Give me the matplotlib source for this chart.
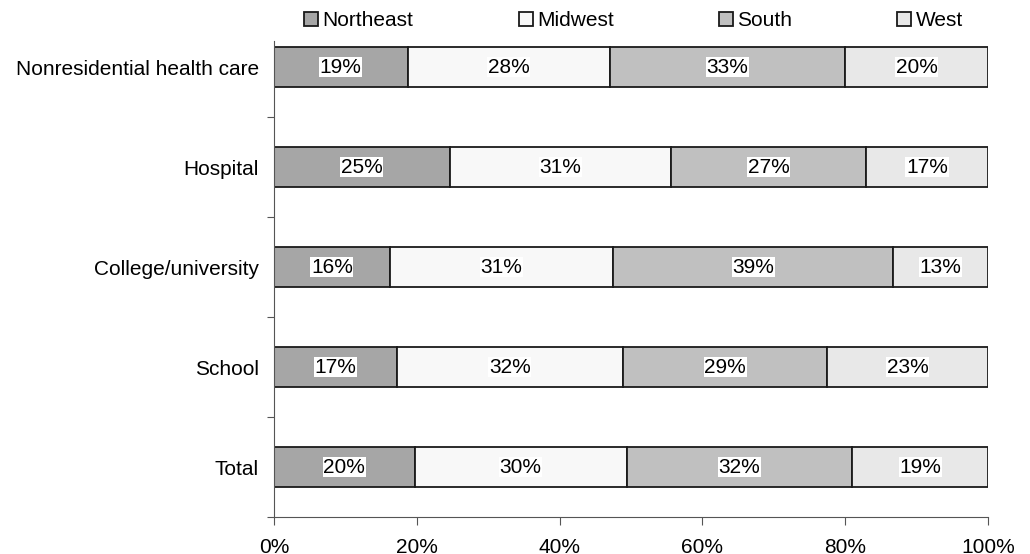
import numpy as np
import matplotlib.pyplot as plt
from matplotlib.ticker import FixedLocator, FuncFormatter

plt.rcParams['font.family'] = ['Liberation Sans', 'DejaVu Sans']

categories = ["Nonresidential health care", "Hospital", "College/university", "School", "Total"]
regions = ["Northeast", "Midwest", "South", "West"]
northeast = [18.7, 24.6, 16.2, 17.2, 19.7]
midwest = [28.3, 31.0, 31.3, 31.7, 29.7]
south = [33.0, 27.3, 39.2, 28.6, 31.6]
west = [20.0, 17.1, 13.3, 22.5, 19.0]
labels = [
    [19, 25, 16, 17, 20],
    [28, 31, 31, 32, 30],
    [33, 27, 39, 29, 32],
    [20, 17, 13, 23, 19],
]
colors = ["#a6a6a6", "#f8f8f8", "#c0c0c0", "#e8e8e8"]
fs = 15

fig = plt.figure(figsize=(10.3, 5.54), dpi=100)
ax = fig.add_axes([274 / 1030, 1 - 517 / 554, 714 / 1030, 500 / 554])

y = np.arange(len(categories))
left = np.zeros(len(categories))
for name, vals, col, labs in zip(regions, [northeast, midwest, south, west], colors, labels):
    vals = np.array(vals)
    ax.barh(y, vals, left=left, height=0.4, color=col, edgecolor="#1a1a1a",
            linewidth=1.3, label=name)
    for yi, l, v, t in zip(y, left, vals, labs):
        ax.text(l + v / 2, yi, f"{t}%", ha="center", va="center", fontsize=fs,
                bbox=dict(facecolor="white", edgecolor="none", pad=0.5))
    left = left + vals

ax.set_xlim(0, 100)
ax.set_ylim(len(categories) - 0.5, -0.5)
ax.xaxis.set_major_locator(FixedLocator([0, 20, 40, 60, 80, 100]))
ax.xaxis.set_major_formatter(FuncFormatter(lambda v, p: f"{v:.0f}%"))
ax.yaxis.set_major_locator(FixedLocator(np.arange(0.5, len(categories), 1.0)))
ax.yaxis.set_major_formatter(FuncFormatter(lambda v, p: ""))
ax.yaxis.set_minor_locator(FixedLocator(y))
ax.set_yticklabels(categories, minor=True)
ax.tick_params(axis="y", which="minor", length=0, pad=11, labelsize=fs)
ax.tick_params(axis="y", which="major", length=5, color="#555555")
ax.tick_params(axis="x", length=6, color="#555555", labelsize=fs, pad=9)
for s in ["top", "right"]:
    ax.spines[s].set_visible(False)
ax.spines["left"].set_color("#555555")
ax.spines["left"].set_bounds(-0.26, len(categories) - 0.5)
ax.spines["bottom"].set_color("#555555")

fig.legend(loc="center", bbox_to_anchor=(633.5 / 1030, 1 - 21 / 554),
           ncol=4, frameon=True, facecolor="white", edgecolor="none",
           fontsize=fs, handlelength=0.68, handleheight=0.68, handletextpad=0.2,
           columnspacing=5.05, borderaxespad=0, borderpad=0.1, fancybox=False)

plt.savefig("out.png", dpi=100)
